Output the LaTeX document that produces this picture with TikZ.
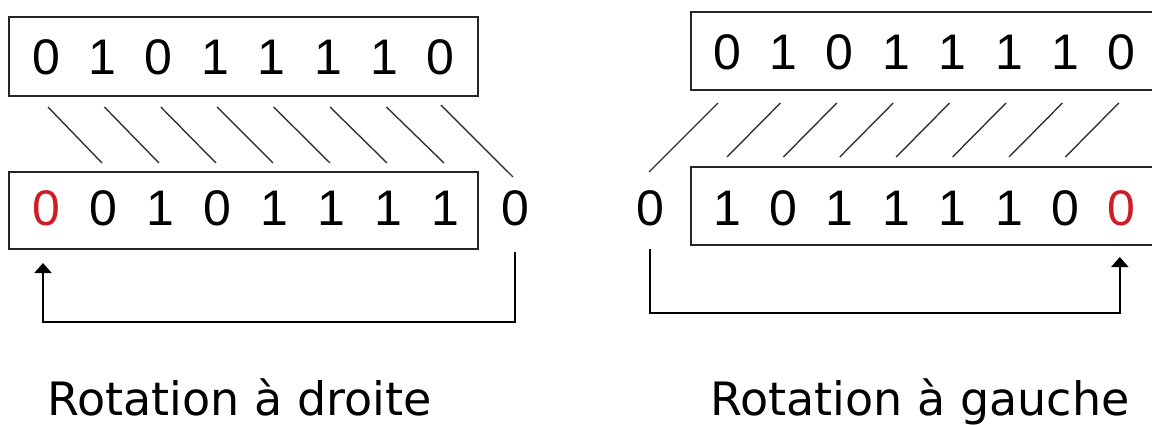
\documentclass[tikz,border=0pt]{standalone}
\usepackage{fontspec}
\setmainfont{DejaVu Sans}
\newfontfamily\digitfont{Liberation Sans}
\usetikzlibrary{calc,arrows.meta}
\definecolor{bitred}{RGB}{208,28,38}
\newcommand\bitfont{\fontsize{50}{60}\digitfont}
\begin{document}
\begin{tikzpicture}[x=1pt,y=-1pt,
  regbox/.style={draw=black!85, line width=2pt, minimum width=469pt, inner sep=0pt},
  bit/.style={font=\bitfont, inner sep=0pt},
  redbit/.style={bit, text=bitred},
  link/.style={draw=black!80, line width=1.4pt},
  loop/.style={draw=black, line width=2pt, -{Triangle[width=17pt,length=10pt]}},
  caption/.style={font=\fontsize{46}{55}\selectfont, inner sep=0pt, anchor=base}]
\useasboundingbox (0,0) rectangle (1152,425);
\clip (0,0) rectangle (1152,425);
% ---------- Rotation a droite ----------
\node[regbox, minimum height=79pt] (lbox1) at (243.5,56.5) {};
\node[regbox, minimum height=77pt] (lbox2) at (243.5,210.5) {};
\foreach \v [count=\i from 0] in {0,1,0,1,1,1,1,0} {
  \pgfmathsetmacro\xx{46+56.4*\i}
  \node[bit] (lt\i) at (\xx,57) {\digitfont\v};
}
\node[redbit] (lb0) at (46,208) {\digitfont 0};
\foreach \v [count=\i from 1] in {0,1,0,1,1,1,1} {
  \pgfmathsetmacro\xx{46+57*\i}
  \node[bit] (lb\i) at (\xx,208) {\digitfont\v};
}
\node[bit] (lout) at (515,208) {\digitfont 0};
\foreach \i [evaluate=\i as \j using int(\i+1)] in {0,...,6} {
  \draw[link] ($(lt\i)+(2,50)$) -- ($(lb\j)+(-1,-45)$);
}
\draw[link] ($(lt7)+(0,48)$) -- ($(lout)+(-2,-31)$);
\draw[loop] ($(lout)+(0,44)$) -- ++(0,70) -| ($(lb0)+(-3,55)$);
\node[caption] (lcap) at (239.5,415) {Rotation à droite};
% ---------- Rotation a gauche ----------
\node[regbox, minimum height=78pt] (rbox1) at (925.5,51) {};
\node[regbox, minimum height=78pt] (rbox2) at (925.5,206) {};
\foreach \v [count=\i from 0] in {0,1,0,1,1,1,1,0} {
  \pgfmathsetmacro\xx{727+56.4*\i}
  \node[bit] (rt\i) at (\xx,52) {\digitfont\v};
}
\foreach \v [count=\i from 0] in {1,0,1,1,1,1,0} {
  \pgfmathsetmacro\xx{727+56.4*\i}
  \node[bit] (rb\i) at (\xx,208) {\digitfont\v};
}
\node[redbit] (rb7) at (1121.8,208) {\digitfont 0};
\node[bit] (rout) at (650,208) {\digitfont 0};
\draw[link] ($(rt0)+(-9,51)$) -- ($(rout)+(-1,-36)$);
\foreach \i [evaluate=\i as \j using int(\i-1)] in {1,...,7} {
  \draw[link] ($(rt\i)+(-3,51)$) -- ($(rb\j)+(0,-51)$);
}
\draw[loop] ($(rout)+(0,41)$) -- ++(0,64) -| ($(rb7)+(-2,49)$);
\node[caption] (rcap) at (920,415) {Rotation à gauche};
\end{tikzpicture}
\end{document}
